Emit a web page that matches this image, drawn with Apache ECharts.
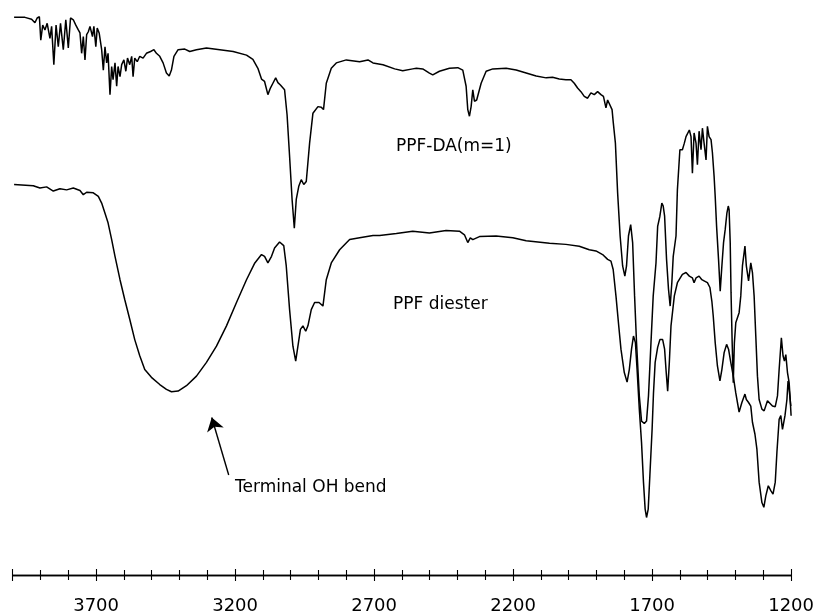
<!DOCTYPE html>
<html>
<head>
<meta charset="utf-8">
<script src="https://cdn.jsdelivr.net/npm/echarts@6/dist/echarts.min.js"></script>
<style>
  html, body { margin: 0; padding: 0; background: #fff; }
  #chart { width: 817px; height: 615px; }
</style>
</head>
<body>
<div id="chart"></div>
<script>
// wavenumber (cm-1) and transmittance (arbitrary units)
const daWavenumber = [3995, 3956, 3932, 3920, 3912, 3904, 3899, 3892, 3884, 3876, 3866, 3860, 3852, 3844, 3836, 3828, 3818, 3809, 3800, 3792,
  3782, 3773, 3764, 3758, 3752, 3746, 3740, 3734, 3728, 3722, 3713, 3708, 3701, 3696, 3689, 3680, 3674, 3668, 3662, 3657,
  3650, 3644, 3639, 3632, 3626, 3621, 3614, 3608, 3600, 3593, 3587, 3579, 3572, 3567, 3561, 3552, 3543, 3531, 3519, 3504,
  3492, 3483, 3471, 3459, 3447, 3437, 3429, 3420, 3405, 3381, 3363, 3339, 3303, 3255, 3207, 3159, 3136, 3118, 3105, 3094,
  3082, 3073, 3064, 3054, 3046, 3037, 3030, 3022, 3013, 3004, 2995, 2987, 2980, 2971, 2962, 2953, 2944, 2932, 2920, 2902,
  2890, 2882, 2872, 2854, 2836, 2800, 2752, 2722, 2704, 2668, 2626, 2597, 2561, 2548, 2525, 2501, 2489, 2465, 2429, 2399,
  2381, 2369, 2363, 2357, 2351, 2345, 2339, 2331, 2315, 2297, 2273, 2225, 2189, 2153, 2117, 2081, 2058, 2034, 2010, 1992,
  1980, 1968, 1956, 1944, 1938, 1932, 1920, 1908, 1896, 1884, 1875, 1866, 1860, 1854, 1844, 1840, 1832, 1824, 1815, 1806,
  1798, 1792, 1785, 1777, 1770, 1763, 1756, 1746, 1738, 1728, 1720, 1713, 1704, 1696, 1686, 1680, 1672, 1665, 1660, 1655,
  1648, 1641, 1635, 1629, 1624, 1619, 1614, 1609, 1600, 1591, 1584, 1578, 1573, 1566, 1560, 1555, 1549, 1542, 1537, 1531,
  1524, 1519, 1513, 1506, 1501, 1495, 1488, 1483, 1477, 1473, 1468, 1461, 1455, 1449, 1443, 1437, 1431, 1426, 1423, 1419,
  1416, 1412, 1408, 1404, 1399, 1387, 1381, 1375, 1366, 1361, 1353, 1345, 1339, 1333, 1327, 1321, 1315, 1305, 1297, 1285,
  1279, 1267, 1257, 1249, 1243, 1235, 1229, 1224, 1219, 1213, 1207, 1204, 1200];
const daTransmittance = [93.1, 93.1, 92.8, 92.2, 93.0, 93.2, 89.3, 91.8, 91.0, 92.1, 89.6, 91.6, 85.2, 91.8, 88.2, 92.1, 87.7, 92.7, 88.0, 93.0,
  92.7, 91.8, 91.0, 90.5, 87.1, 89.9, 86.0, 90.2, 90.7, 91.6, 89.9, 91.6, 88.2, 91.3, 90.5, 87.7, 84.3, 88.2, 85.5, 87.1,
  80.2, 84.9, 82.7, 85.5, 81.6, 84.9, 83.2, 85.2, 86.0, 84.1, 86.3, 85.2, 86.6, 83.2, 86.3, 85.7, 86.6, 86.3, 87.1, 87.4,
  87.7, 87.1, 86.6, 85.5, 83.8, 83.3, 84.3, 86.6, 87.7, 87.8, 87.4, 87.7, 88.0, 87.7, 87.4, 86.8, 86.1, 84.6, 82.8, 82.4,
  80.2, 81.3, 82.1, 83.0, 82.2, 81.8, 81.7, 81.0, 76.8, 69.9, 62.7, 57.9, 62.7, 64.9, 66.0, 65.2, 65.7, 72.1, 77.1, 78.2,
  78.1, 77.7, 82.1, 84.6, 85.5, 86.0, 85.7, 86.0, 85.5, 85.2, 84.5, 84.2, 84.5, 84.6, 84.5, 83.8, 83.5, 84.1, 84.6, 84.7,
  84.3, 81.6, 77.7, 76.6, 78.2, 81.0, 79.1, 79.3, 82.1, 84.1, 84.5, 84.6, 84.3, 83.8, 83.3, 83.0, 83.1, 82.8, 82.7, 82.7,
  82.1, 81.3, 80.7, 79.9, 80.2, 79.6, 80.5, 80.2, 80.7, 80.2, 79.9, 78.0, 79.3, 79.1, 77.7, 75.7, 72.1, 63.8, 56.6, 51.6,
  49.9, 51.6, 56.6, 58.5, 55.5, 46.6, 38.8, 29.9, 25.7, 25.3, 25.7, 29.9, 38.8, 46.6, 52.1, 58.2, 59.9, 62.1, 61.6, 59.9,
  52.7, 47.7, 44.9, 48.8, 53.2, 53.0, 56.6, 64.3, 71.0, 71.0, 72.1, 73.2, 73.5, 74.3, 73.2, 67.1, 73.8, 72.1, 68.5, 74.1,
  71.0, 74.6, 72.1, 69.3, 74.9, 73.2, 72.7, 70.5, 66.6, 63.2, 58.2, 52.7, 47.4, 51.6, 55.5, 57.7, 60.4, 61.6, 61.0, 55.5,
  47.1, 38.8, 32.1, 38.8, 42.1, 43.8, 46.6, 51.6, 54.9, 51.6, 49.1, 52.1, 50.5, 46.6, 39.9, 33.2, 29.3, 27.7, 27.4, 29.1,
  28.8, 28.2, 28.1, 29.9, 34.3, 39.6, 36.6, 35.7, 36.8, 33.8, 32.1, 29.9, 26.6];

const diesterWavenumber = [3995, 3926, 3902, 3878, 3854, 3830, 3806, 3782, 3758, 3746, 3734, 3710, 3692, 3680, 3668, 3657, 3644, 3632, 3614, 3597,
  3579, 3561, 3543, 3525, 3501, 3471, 3447, 3429, 3405, 3375, 3339, 3303, 3267, 3231, 3195, 3159, 3129, 3105, 3094, 3082,
  3069, 3058, 3040, 3025, 3016, 3004, 2992, 2982, 2974, 2965, 2956, 2946, 2938, 2926, 2914, 2898, 2884, 2872, 2854, 2824,
  2788, 2752, 2704, 2680, 2620, 2561, 2501, 2441, 2393, 2375, 2363, 2354, 2345, 2321, 2261, 2201, 2153, 2069, 2010, 1962,
  1926, 1902, 1878, 1860, 1848, 1840, 1830, 1820, 1812, 1800, 1790, 1782, 1774, 1767, 1760, 1754, 1746, 1738, 1731, 1725,
  1720, 1714, 1708, 1700, 1695, 1689, 1680, 1672, 1662, 1655, 1650, 1644, 1638, 1632, 1620, 1609, 1591, 1578, 1566, 1555,
  1549, 1542, 1531, 1521, 1513, 1506, 1501, 1492, 1485, 1480, 1473, 1465, 1456, 1449, 1441, 1432, 1425, 1417, 1408, 1399,
  1393, 1387, 1377, 1366, 1361, 1353, 1345, 1339, 1330, 1323, 1315, 1305, 1298, 1291, 1282, 1273, 1265, 1257, 1251, 1243,
  1237, 1231, 1228, 1222, 1215, 1211, 1207, 1201];
const diesterTransmittance = [65.2, 65.0, 64.6, 64.8, 64.1, 64.5, 64.3, 64.6, 64.2, 63.5, 63.9, 63.8, 63.2, 62.1, 60.4, 58.8, 56.0, 53.2, 49.3, 46.0,
  42.7, 39.3, 36.6, 34.3, 33.0, 31.8, 31.0, 30.6, 30.7, 31.6, 33.2, 35.5, 38.2, 41.6, 45.5, 49.3, 52.1, 53.5, 53.2, 52.1,
  53.2, 54.6, 55.6, 55.0, 51.6, 44.3, 38.2, 35.7, 38.2, 41.0, 41.6, 40.7, 41.6, 44.3, 45.5, 45.5, 44.9, 49.3, 52.1, 54.3,
  56.0, 56.3, 56.7, 56.7, 57.0, 57.4, 57.1, 57.5, 57.4, 56.8, 55.5, 56.3, 56.0, 56.5, 56.6, 56.3, 55.8, 55.4, 55.2, 54.9,
  54.3, 54.1, 53.5, 52.7, 52.4, 51.0, 46.6, 41.6, 37.7, 33.8, 32.2, 34.3, 37.7, 39.9, 38.8, 34.3, 27.7, 22.1, 15.5, 11.0,
  9.6, 11.0, 16.6, 24.3, 30.4, 35.5, 38.0, 39.3, 39.3, 37.7, 34.3, 30.7, 35.5, 41.6, 46.6, 48.8, 50.2, 50.5, 49.9, 49.6,
  48.8, 49.6, 49.9, 49.3, 49.1, 49.3, 48.8, 48.0, 45.7, 43.2, 38.8, 34.9, 32.4, 34.3, 37.1, 38.5, 37.7, 35.5, 33.2, 30.4,
  28.8, 27.2, 28.8, 30.2, 29.3, 28.8, 28.2, 25.5, 23.5, 21.0, 15.5, 12.1, 11.3, 13.2, 14.9, 14.1, 13.5, 15.5, 20.5, 26.0,
  26.6, 24.3, 24.1, 26.6, 29.3, 32.4, 31.0, 28.2];

// annotation arrow: from label up to the OH band
const arrowFrom = [3223, 16.7];
const arrowTo = [3284, 26.3];

const pair = (xs, ys) => xs.map((x, i) => [x, ys[i]]);

const chart = echarts.init(document.getElementById('chart'));

const axisBase = {
  type: 'value',
  min: 1200,
  max: 4000,
  interval: 500,
  inverse: true,
  position: 'bottom',
  splitLine: { show: false },
  axisLine: { show: true, lineStyle: { color: '#000', width: 1.3 } },
  minorTick: { show: true, splitNumber: 5, length: 5, lineStyle: { color: '#000', width: 1.1 } },
  minorSplitLine: { show: false }
};

const option = {
  animation: false,
  backgroundColor: '#fff',
  grid: { left: 12.7, right: 25, top: 0, bottom: 39, containLabel: false },
  xAxis: [
    Object.assign({}, axisBase, {
      axisTick: { show: true, length: 6, inside: false, lineStyle: { color: '#000', width: 1.1 } },
      axisLabel: {
        show: true, color: '#000', fontFamily: 'DejaVu Sans', fontSize: 18, margin: 22,
        formatter: v => (v === 4000 ? '' : String(v))
      }
    }),
    Object.assign({}, axisBase, {
      axisTick: { show: true, length: 6, inside: true, lineStyle: { color: '#000', width: 1.1 } },
      axisLabel: { show: false }
    })
  ],
  yAxis: { type: 'value', min: 0, max: 96, show: false, splitLine: { show: false } },
  series: [
    {
      name: 'PPF-DA(m=1)',
      type: 'line',
      data: pair(daWavenumber, daTransmittance),
      showSymbol: false,
      lineStyle: { color: '#000', width: 1.5 },
      silent: true
    },
    {
      name: 'PPF diester',
      type: 'line',
      data: pair(diesterWavenumber, diesterTransmittance),
      showSymbol: false,
      lineStyle: { color: '#000', width: 1.5 },
      silent: true,
      markLine: {
        silent: true,
        symbol: ['none', 'arrow'],
        symbolSize: 13,
        label: { show: false },
        lineStyle: { color: '#000', width: 1.4, type: 'solid' },
        data: [[{ coord: arrowFrom }, { coord: arrowTo }]]
      }
    }
  ],
  graphic: [
    { type: 'text', left: 396, top: 138, style: { text: 'PPF-DA(m=1)', font: '17px DejaVu Sans', fill: '#000' } },
    { type: 'text', left: 393, top: 296, style: { text: 'PPF diester', font: '17px DejaVu Sans', fill: '#000' } },
    { type: 'text', left: 235, top: 479, style: { text: 'Terminal OH bend', font: '17px DejaVu Sans', fill: '#000' } }
  ]
};

chart.setOption(option);
</script>
</body>
</html>
